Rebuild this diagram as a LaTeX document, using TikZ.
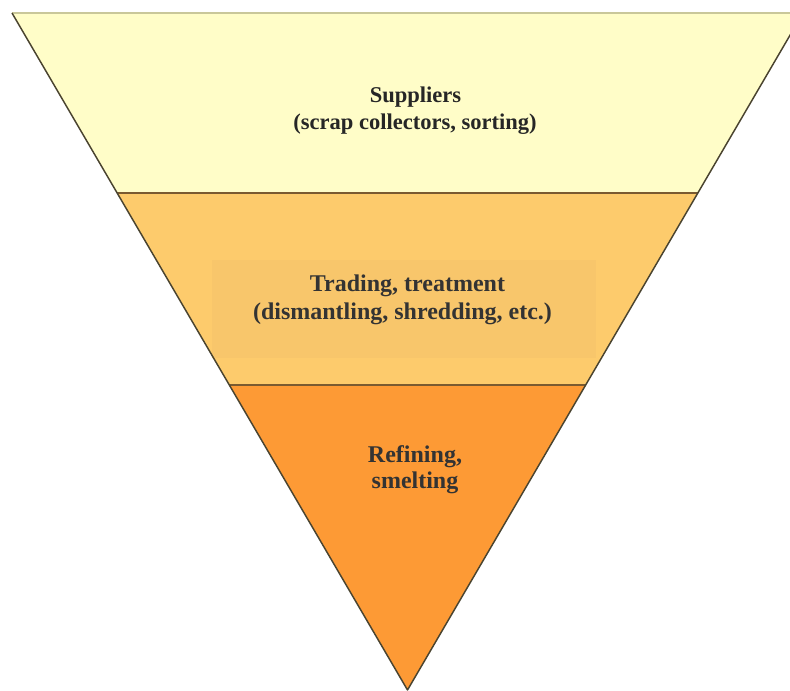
\documentclass[tikz,border=0pt]{standalone}
\usepackage{fontspec}
\setmainfont{Liberation Serif}
\definecolor{topband}{HTML}{FFFDC8}
\definecolor{midband}{HTML}{FDCB6C}
\definecolor{midinner}{HTML}{F8C66B}
\definecolor{lowband}{HTML}{FD9A35}
\definecolor{edgeline}{HTML}{4A4430}
\definecolor{divline}{HTML}{7A5A30}
\definecolor{topline}{HTML}{C9C79A}
\definecolor{txt}{HTML}{333333}
\tikzset{
  lbl/.style={font=\fontsize{18pt}{22pt}\selectfont\bfseries, text=txt, align=center, inner sep=0pt},
  lbltop/.style={lbl, font=\fontsize{16.9pt}{21pt}\selectfont\bfseries, text=black!85},
  edge/.style={draw=edgeline, line width=1.1pt, line join=round},
  divider/.style={draw=divline, line width=1.5pt},
}
\begin{document}
\begin{tikzpicture}[x=0.75pt, y=-0.75pt]
\useasboundingbox (0,0) rectangle (790,691);
\fill[white] (0,0) rectangle (790,691);
\begin{scope}
\clip (0,0) rectangle (790,691);
% key points
\coordinate (TL) at (12,13);
\coordinate (TR) at (803,13);
\coordinate (A) at (407.5,690);
\coordinate (L1) at (117.4,193.5);
\coordinate (R1) at (697.6,193.5);
\coordinate (L2) at (229.3,385);
\coordinate (R2) at (585.7,385);
% bands
\fill[topband] (TL) -- (TR) -- (R1) -- (L1) -- cycle;
\fill[midband] (L1) -- (R1) -- (R2) -- (L2) -- cycle;
\fill[midinner] (212,260) rectangle (596,358);
\fill[lowband] (L2) -- (R2) -- (A) -- cycle;
% lines
\draw[topline, line width=0.8pt] (TL) -- (TR);
\draw[divider] (L1) -- (R1);
\draw[divider] (L2) -- (R2);
\draw[edge] (TL) -- (A) -- (TR);
\end{scope}
% labels
\node[lbltop, anchor=base] (sup1) at (415.5,103) {Suppliers};
\node[lbltop, anchor=base] (sup2) at (415,130) {(scrap collectors, sorting)};
\node[lbl, anchor=base] (trd1) at (407.5,292) {Trading, treatment};
\node[lbl, anchor=base] (trd2) at (402.5,320) {(dismantling, shredding, etc.)};
\node[lbl, anchor=base] (ref1) at (415,463) {Refining,};
\node[lbl, anchor=base] (ref2) at (415,489) {smelting};
\end{tikzpicture}
\end{document}
